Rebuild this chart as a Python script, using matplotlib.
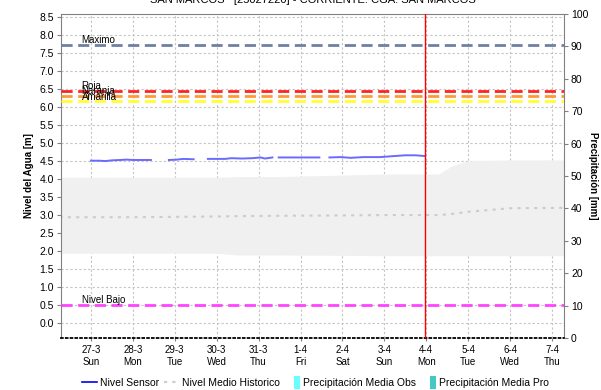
import matplotlib.pyplot as plt
import numpy as np
from matplotlib.lines import Line2D
from matplotlib.patches import Patch, Rectangle
from matplotlib.legend_handler import HandlerPatch

plt.rcParams['font.family'] = ['Liberation Sans', 'DejaVu Sans']

# days counted from 27-3 00:00
day_labels = ["27-3\nSun", "28-3\nMon", "29-3\nTue", "30-3\nWed", "31-3\nThu", "1-4\nFri",
              "2-4\nSat", "3-4\nSun", "4-4\nMon", "5-4\nTue", "6-4\nWed", "7-4\nThu"]

# nivel sensor (nan = gap)
sensor_t = [0.0, 0.2, 0.35, 0.5, 0.7, 0.85, 1.0, 1.2, 1.43, np.nan,
            1.86, 2.05, 2.2, 2.45, np.nan,
            2.79, 3.0, 3.2, 3.35, 3.6, 3.85, 4.05, 4.15, 4.33, np.nan,
            4.48, 4.8, 5.1, 5.45, np.nan,
            5.69, 5.95, 6.2, 6.5, 6.9, 7.25, 7.5, 7.75, 7.95]
sensor_h = [4.50, 4.50, 4.49, 4.51, 4.52, 4.53, 4.52, 4.52, 4.52, np.nan,
            4.52, 4.53, 4.55, 4.54, np.nan,
            4.55, 4.55, 4.55, 4.57, 4.56, 4.57, 4.59, 4.56, 4.59, np.nan,
            4.59, 4.59, 4.59, 4.59, np.nan,
            4.59, 4.60, 4.58, 4.60, 4.60, 4.63, 4.65, 4.65, 4.63]

# historico: banda y nivel medio
hist_t = [-0.75, 1.0, 2.0, 3.0, 3.5, 4.5, 6.0, 7.0, 8.3, 8.6, 9.0, 10.0, 11.3]
hist_max = [4.04, 4.04, 4.04, 4.04, 4.06, 4.06, 4.10, 4.13, 4.13, 4.35, 4.50, 4.52, 4.52]
hist_min = [1.93, 1.93, 1.93, 1.93, 1.88, 1.88, 1.87, 1.86, 1.86, 1.86, 1.86, 1.86, 1.86]
hist_mean = [2.93, 2.93, 2.94, 2.95, 2.96, 2.97, 2.98, 2.99, 2.99, 3.02, 3.08, 3.18, 3.19]

# umbrales
umbral_names = ["Maximo", "Roja", "Naranja", "Amarilla", "Nivel Bajo"]
umbral_values = [7.72, 6.44, 6.30, 6.16, 0.50]
umbral_colors = ["#6f7fa3", "#ff2222", "#ff9a33", "#ffff33", "#ff44ff"]

now_t = 7.98

fig = plt.figure(figsize=(6.01, 3.90), dpi=100)
ax = fig.add_axes([61 / 601, 1 - 338 / 390, (564 - 61) / 601, (338 - 14) / 390])

ax.fill_between(hist_t, hist_min, hist_max, color="#f0f0f0", lw=0, zorder=1)
ax.plot(hist_t, hist_mean, color="#cccccc", lw=1.5, ls=(0, (1.5, 2.5)), zorder=2)

for name, v, c in zip(umbral_names, umbral_values, umbral_colors):
    ax.axhline(v, color=c, lw=2, ls=(0, (4, 2)), zorder=3)
    ax.text(-0.22, v + 0.04, name, fontsize=7, color="black", va="baseline", ha="left", zorder=5)

ax.plot(sensor_t, sensor_h, color="#6a6aff", lw=1.4, zorder=4)
ax.axvline(now_t, color="#ff0000", lw=1, zorder=4)

ax.set_xlim(-0.714, 11.286)
ax.set_ylim(-0.425, 8.575)
ax.set_xticks(range(len(day_labels)))
ax.set_xticklabels(day_labels, fontsize=7, linespacing=1.3)
ax.set_yticks(np.arange(0, 8.6, 0.5))
ax.set_yticklabels([f"{v:.1f}" for v in np.arange(0, 8.6, 0.5)], fontsize=7.5)
ax.grid(True, color="#c4c4c4", ls=(0, (2, 2)), lw=0.8, zorder=0)
ax.set_axisbelow(True)
ax.tick_params(axis="x", length=2, color="#808080", pad=3)
ax.tick_params(axis="y", length=3, color="#808080", pad=2)

for s in ["left", "right", "top"]:
    ax.spines[s].set_color("#808080")
ax.spines["bottom"].set_linestyle(":")
ax.spines["bottom"].set_color("black")
ax.spines["bottom"].set_linewidth(1.3)
ax.set_ylabel("Nivel del Agua [m]", fontsize=7, fontweight="bold", labelpad=4)

ax2 = ax.twinx()
ax2.set_ylim(0, 100)
ax2.set_yticks(range(0, 101, 10))
ax2.tick_params(axis="y", labelsize=7.5, length=3, color="#808080", pad=2)
for s in ax2.spines.values():
    s.set_visible(False)
ax2.set_ylabel("Precipitación [mm]", fontsize=7, fontweight="bold", rotation=270, labelpad=7)

fig.text(0.52, 1 - 5 / 390, "SAN MARCOS   [25027220] - CORRIENTE. CGA. SAN MARCOS",
         ha="center", va="bottom", fontsize=8)


def narrow_box(legend, orig_handle, xdescent, ydescent, width, height, fontsize):
    return Rectangle((width - 4.5 - xdescent, -ydescent - 1.5), 4.5, height + 3)


handles = [Line2D([], [], color="#0000ee", lw=1.2),
           Line2D([], [], color="#cccccc", lw=1.5, ls=(0, (1.5, 2.5))),
           Patch(facecolor="#66ffff", edgecolor="none"),
           Patch(facecolor="#44c8c4", edgecolor="none")]
labels = ["Nivel Sensor", "Nivel Medio Historico", "Precipitación Media Obs", "Precipitación Media Pro"]
fig.legend(handles, labels, loc="center", bbox_to_anchor=(315 / 601, 1 - 383 / 390), ncol=4,
           frameon=False, fontsize=7.5, handlelength=1.5, handletextpad=0.25,
           columnspacing=0.45, handleheight=0.9,
           handler_map={Patch: HandlerPatch(patch_func=narrow_box)})

fig.savefig("out.png", dpi=100)
